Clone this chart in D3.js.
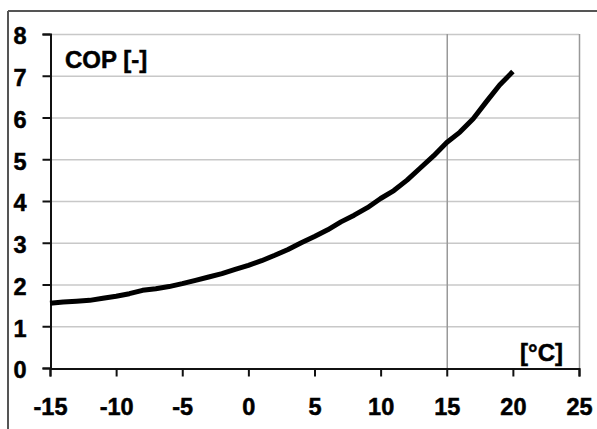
<!DOCTYPE html>
<html>
<head>
<meta charset="utf-8">
<script src="https://cdn.jsdelivr.net/npm/d3@7"></script>
<style>
  body { margin: 0; background: #fff; }
  svg text { font-family: "Liberation Sans", Arial, sans-serif; font-weight: bold; }
</style>
</head>
<body>
<div id="corpo"></div>
<script>
// outside temperature [°C]
var temps = [-15, -14, -13, -12, -11, -10, -9, -8, -7, -6, -5, -4, -3, -2, -1, 0,
  1, 2, 3, 4, 5, 6, 7, 8, 9, 10, 11, 12, 13, 14, 15, 16, 17, 18, 19, 20];
// COP [-]
var cop = [1.55, 1.58, 1.60, 1.62, 1.67, 1.72, 1.78, 1.86, 1.90, 1.95, 2.02, 2.10, 2.18, 2.26, 2.36, 2.46,
  2.57, 2.70, 2.84, 3.00, 3.15, 3.31, 3.50, 3.66, 3.84, 4.06, 4.25, 4.50, 4.79, 5.08, 5.40, 5.65, 5.97, 6.38, 6.78, 7.10];

var xTicks = [-15, -10, -5, 0, 5, 10, 15, 20, 25];
var yTicks = [0, 1, 2, 3, 4, 5, 6, 7, 8];
var xGrid = [15, 25];

var width = 597, height = 429;
var svg = d3.select("#corpo").append("svg")
  .attr("width", width)
  .attr("height", height);

/* frame round the picture */
svg.append("line").attr("x1", 8).attr("x2", width).attr("y1", 11).attr("y2", 11)
  .attr("stroke", "#555").attr("stroke-width", 2);
svg.append("line").attr("x1", 8).attr("x2", 8).attr("y1", 11).attr("y2", height)
  .attr("stroke", "#555").attr("stroke-width", 2);

var x = d3.scaleLinear().domain([-15, 25]).range([50, 579]);
var y = d3.scaleLinear().domain([0, 8]).range([368, 34]);

// horizontal grid
svg.append("g").selectAll("line")
  .data(yTicks.slice(1))
  .enter().append("line")
  .attr("x1", x(-15)).attr("x2", x(25))
  .attr("y1", function(d) { return y(d) + 0.5; })
  .attr("y2", function(d) { return y(d) + 0.5; })
  .attr("stroke", "#c8c8c8").attr("stroke-width", 1.5);

// vertical grid
svg.append("g").selectAll("line")
  .data(xGrid)
  .enter().append("line")
  .attr("x1", function(d) { return x(d) + 0.5; })
  .attr("x2", function(d) { return x(d) + 0.5; })
  .attr("y1", y(8)).attr("y2", y(0))
  .attr("stroke", "#999").attr("stroke-width", 1.5);

// plain hyphen for negatives, like the original
var fmt = function(d) { return String(d); };

// axes
var xAxis = svg.append("g")
  .attr("transform", "translate(0," + (y(0) + 0.5) + ")")
  .call(d3.axisBottom(x).tickValues(xTicks).tickFormat(fmt).tickSize(8));
var yAxis = svg.append("g")
  .attr("transform", "translate(" + (x(-15) + 0.5) + ",0)")
  .call(d3.axisLeft(y).tickValues(yTicks).tickFormat(fmt).tickSize(8));

[xAxis, yAxis].forEach(function(a) {
  a.select(".domain").attr("stroke", "#111").attr("stroke-width", 2);
  a.selectAll(".tick line").attr("stroke", "#111").attr("stroke-width", 2);
  a.selectAll(".tick text")
    .attr("fill", "#000")
    .attr("font-size", 23.5)
    .attr("font-family", "Liberation Sans, Arial, sans-serif")
    .attr("font-weight", "bold")
    .attr("stroke", "#000")
    .attr("stroke-width", 0.5);
});
xAxis.selectAll(".tick text").attr("dy", "0.71em").attr("y", 30);
yAxis.selectAll(".tick text").attr("text-anchor", "start").attr("x", -37).attr("dy", "0.42em");

// curve
var line = d3.line()
  .x(function(d, i) { return x(temps[i]); })
  .y(function(d) { return y(d); });

svg.append("path")
  .datum(cop)
  .attr("d", line)
  .attr("fill", "none")
  .attr("stroke", "#000")
  .attr("stroke-width", 5)
  .attr("stroke-linejoin", "round");

// labels
svg.append("text")
  .attr("x", 65).attr("y", 68)
  .attr("font-size", 24)
  .attr("fill", "#000")
  .attr("stroke", "#000")
  .attr("stroke-width", 0.5)
  .text("COP [-]");

svg.append("text")
  .attr("x", 563).attr("y", 361)
  .attr("text-anchor", "end")
  .attr("font-size", 24)
  .attr("fill", "#000")
  .attr("stroke", "#000")
  .attr("stroke-width", 0.5)
  .text("[°C]");
</script>
</body>
</html>
